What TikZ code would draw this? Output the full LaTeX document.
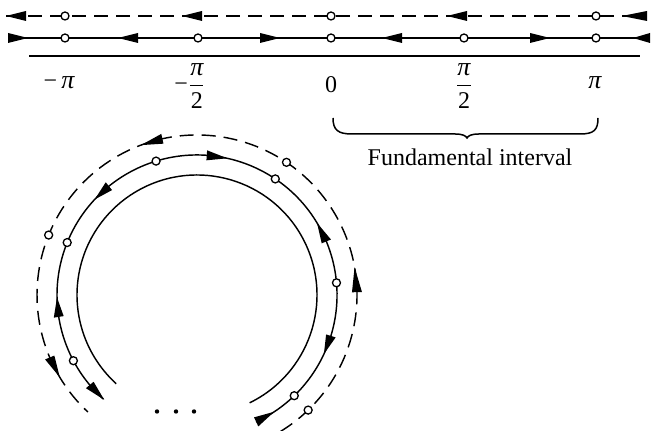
\documentclass[tikz,border=0pt]{standalone}
\usepackage{amsmath}
\usepackage{fontspec}
\setmainfont{Liberation Serif}
\usetikzlibrary{calc}
\newcommand\harrow[3]{\fill (#1,#2) -- ++(#3,5) -- ++(0,-10) -- cycle;}
\newcommand\carrow[3]{\fill (#1:#3) -- (#2:#3+5) -- (#2:#3-5) -- cycle;}
\newcommand\mypi{{\fontsize{13}{14}\selectfont\itshape π}}
\begin{document}
\begin{tikzpicture}[x=0.5pt,y=0.5pt,
  lin/.style={line width=0.72pt},
  dsh/.style={line width=0.72pt, dash pattern=on 7pt off 4pt},
  ocirc/.style={circle, draw, fill=white, line width=0.65pt, inner sep=0pt, minimum size=4pt},
  dotn/.style={circle, fill=black, inner sep=0pt, minimum size=2.2pt},
  lab/.style={font=\fontsize{12}{14}\selectfont, inner sep=0pt}]
\useasboundingbox (0,0) rectangle (652,431);

% ---- straight lines ----
\coordinate (dL) at (6,415);  \coordinate (dR) at (647,415);
\coordinate (sL) at (8,393);  \coordinate (sR) at (650,393);
\coordinate (aL) at (29,374.5); \coordinate (aR) at (640,374.5);
\draw[dsh] (dL) -- (dR);
\draw[lin] (sL) -- (sR);
\draw[line width=1pt] (aL) -- (aR);

% arrowheads on dashed line (all pointing left)
\harrow{6}{415}{20}
\harrow{182}{415}{20}
\harrow{447}{415}{20}
\harrow{622}{415}{25}
% arrowheads on solid line
\harrow{28}{393}{-20}
\harrow{118}{393}{20}
\harrow{280}{393}{-20}
\harrow{382}{393}{20}
\harrow{550}{393}{-20}
\harrow{633}{393}{17}

% circles on lines
\node[ocirc] (d1) at (65,415) {};
\node[ocirc] (d2) at (331,415) {};
\node[ocirc] (d3) at (596,415) {};
\node[ocirc] (s1) at (65,393) {};
\node[ocirc] (s2) at (198,393) {};
\node[ocirc] (s3) at (331,393) {};
\node[ocirc] (s4) at (464,393) {};
\node[ocirc] (s5) at (596,393) {};

% labels
\node[lab] (l1) at (59,348) {−\,\mypi};
\node[lab] (l2) at (190,345) {$\mbox{−}\genfrac{}{}{0.5pt}{0}{\mbox{\mypi}}{\mbox{2}}$};
\node[lab] (l3) at (331,346) {0};
\node[lab] (l4) at (464,345) {$\genfrac{}{}{0.5pt}{0}{\mbox{\mypi}}{\mbox{2}}$};
\node[lab] (l5) at (595,348) {\mypi};

% brace
\draw[line width=0.75pt] (333,313) .. controls (333,301) and (338,297) .. (352,297)
  -- (455,297) .. controls (463,297) and (466,295) .. (467,293)
  .. controls (468,295) and (471,297) .. (479,297)
  -- (580,297) .. controls (594,297) and (598,301) .. (598,313);
\node[lab] (fi) at (470,273.5) {Fundamental interval};

% ---- circles ----
\begin{scope}[shift={(197,136)}]
\draw[lin] (-64:120) arc[start angle=-64, end angle=227.7, radius=120];
\draw[lin] (-65:140) arc[start angle=-65, end angle=228, radius=140];
\draw[dsh] (-58.5:160) arc[start angle=-58.5, end angle=227, radius=160];
% arrows on middle arc
\carrow{77.5}{86}{140}
\carrow{137}{129}{140}
\carrow{181}{189}{140}
\carrow{228.5}{220}{140}
\carrow{31}{22.5}{140}
\carrow{-25}{-17}{140}
\carrow{-56.5}{-65}{140}
% arrows on dashed arc
\carrow{110.5}{102.5}{160}
\carrow{211}{203}{160}
\carrow{10}{1}{160}
% circles on middle arc
\node[ocirc] (m1) at (-46:140) {};
\node[ocirc] (m2) at (5:140) {};
\node[ocirc] (m3) at (56:140) {};
\node[ocirc] (m4) at (107:140) {};
\node[ocirc] (m5) at (158:140) {};
\node[ocirc] (m6) at (208:140) {};
% circles on dashed arc
\node[ocirc] (o1) at (-46:160) {};
\node[ocirc] (o2) at (56:160) {};
\node[ocirc] (o3) at (158:160) {};
\end{scope}

% dots
\node[dotn] (e1) at (157,19.5) {};
\node[dotn] (e2) at (176,19.5) {};
\node[dotn] (e3) at (194,19.5) {};
\end{tikzpicture}
\end{document}
